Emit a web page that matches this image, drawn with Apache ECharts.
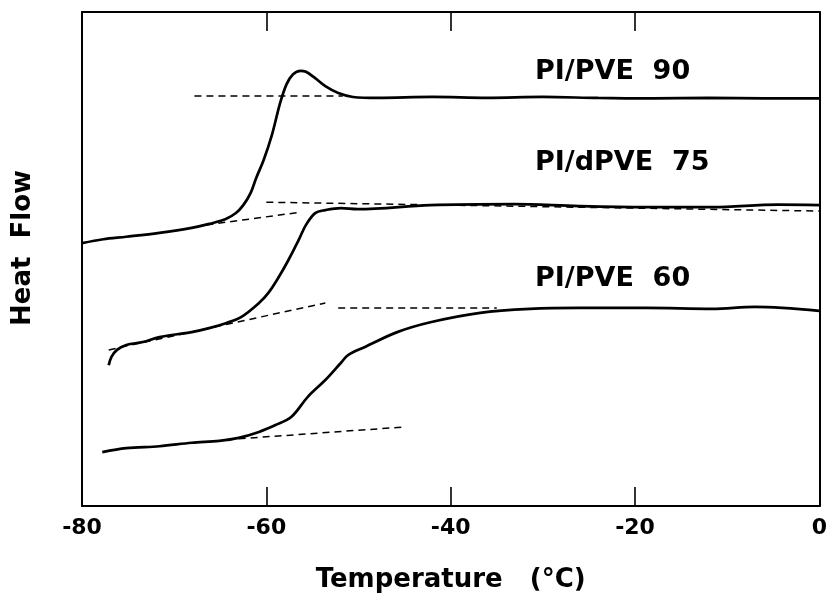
<!DOCTYPE html>
<html>
<head>
<meta charset="utf-8">
<script src="https://cdn.jsdelivr.net/npm/echarts@6/dist/echarts.min.js"></script>
<style>
html,body{margin:0;padding:0;background:#fff;}
#chart{width:830px;height:598px;}
</style>
</head>
<body>
<div id="chart"></div>
<script>
// Temperature axis ticks
const xTicks = [-80, -60, -40, -20, 0];

// DSC traces (Temperature °C, heat flow arbitrary units)
const pve90 = [
  [-80.0, 53.2], [-77.7, 54.0], [-75.2, 54.5], [-71.6, 55.3], [-68.1, 56.3],
  [-66.2, 57.1], [-64.4, 58.1], [-63.3, 59.3], [-62.5, 60.9], [-61.7, 63.4],
  [-61.1, 66.4], [-60.3, 70.0], [-59.4, 75.1], [-58.5, 81.6], [-57.8, 85.4],
  [-57.1, 87.4], [-56.3, 88.1], [-55.7, 87.9], [-54.7, 86.6], [-53.6, 85.0],
  [-52.2, 83.6], [-50.6, 82.8], [-47.9, 82.6], [-42.0, 82.8], [-36.0, 82.6],
  [-30.0, 82.8], [-24.0, 82.6], [-18.0, 82.5], [-12.0, 82.6], [-6.0, 82.5],
  [0.0, 82.5]
];
const dpve75 = [
  [-77.1, 28.5], [-76.8, 30.2], [-76.2, 31.6], [-75.2, 32.6], [-73.4, 33.2],
  [-71.6, 34.2], [-68.1, 35.2], [-66.2, 36.0], [-64.4, 37.0], [-62.7, 38.3],
  [-60.8, 41.1], [-59.8, 43.1], [-58.7, 46.2], [-57.6, 49.8], [-56.5, 53.8],
  [-55.7, 56.9], [-54.7, 59.3], [-53.6, 59.9], [-51.9, 60.3], [-50.1, 60.1],
  [-42.2, 60.9], [-33.2, 61.1], [-26.1, 60.7], [-18.8, 60.5], [-11.6, 60.5],
  [-4.5, 61.0], [0.0, 60.9]
];
const pve60 = [
  [-77.8, 10.9], [-75.2, 11.7], [-71.6, 12.1], [-68.1, 12.8], [-65.1, 13.2],
  [-63.0, 13.8], [-60.8, 15.0], [-59.0, 16.4], [-57.3, 18.0], [-55.5, 22.1],
  [-53.6, 25.5], [-51.9, 29.0], [-51.1, 30.6], [-49.3, 32.2], [-45.8, 35.2],
  [-42.2, 37.2], [-36.8, 39.1], [-31.4, 39.9], [-26.1, 40.1], [-18.8, 40.1],
  [-11.6, 39.9], [-7.0, 40.3], [0.0, 39.5]
];

// Baseline construction lines (dashed)
const base90Upper = [[-67.8, 83.0], [-51.7, 83.0]];
const base90Lower = [[-66.5, 56.9], [-56.2, 59.5]];
const base75Upper = [[-60.0, 61.5], [0.0, 59.7]];
const base75Lower = [[-77.1, 31.6], [-53.6, 41.1]];
const base60Upper = [[-52.2, 40.1], [-35.0, 40.1]];
const base60Lower = [[-63.0, 13.6], [-45.0, 16.0]];

const sampleLabels = ['PI/PVE  90', 'PI/dPVE  75', 'PI/PVE  60'];

const FONT = 'DejaVu Sans';
const chart = echarts.init(document.getElementById('chart'), null, {renderer: 'canvas'});

function solid(data) {
  return {type: 'line', data: data, smooth: 0.35, showSymbol: false, silent: true,
    lineStyle: {color: '#000', width: 2.7}, xAxisIndex: 0, yAxisIndex: 0};
}
function dashed(data) {
  return {type: 'line', data: data, showSymbol: false, silent: true,
    lineStyle: {color: '#000', width: 1.5, type: [7, 5]}, xAxisIndex: 0, yAxisIndex: 0};
}

const axisCommon = {
  type: 'value', min: xTicks[0], max: xTicks[xTicks.length - 1], interval: 20,
  splitLine: {show: false},
  axisLine: {show: true, onZero: false, lineStyle: {color: '#000', width: 2}},
  axisTick: {show: true, inside: true, length: 19, lineStyle: {color: '#000', width: 1.6}}
};

chart.setOption({
  animation: false,
  backgroundColor: '#fff',
  grid: {left: 82, right: 5, top: 12, bottom: 92, containLabel: false},
  xAxis: [
    Object.assign({}, axisCommon, {
      position: 'bottom',
      axisLabel: {show: true, color: '#000', fontFamily: FONT, fontWeight: 'bold', fontSize: 22, margin: 11},
      name: 'Temperature   (°C)', nameLocation: 'middle', nameGap: 61,
      nameTextStyle: {color: '#000', fontFamily: FONT, fontWeight: 'bold', fontSize: 26}
    }),
    Object.assign({}, axisCommon, {position: 'top', axisLabel: {show: false}})
  ],
  yAxis: [
    {type: 'value', min: 0, max: 100, position: 'left', splitLine: {show: false},
     axisLabel: {show: false}, axisTick: {show: false},
     axisLine: {show: true, onZero: false, lineStyle: {color: '#000', width: 2}}},
    {type: 'value', min: 0, max: 100, position: 'right', splitLine: {show: false},
     axisLabel: {show: false}, axisTick: {show: false},
     axisLine: {show: true, onZero: false, lineStyle: {color: '#000', width: 2}}}
  ],
  graphic: [
    {type: 'text', x: 23, y: 248, rotation: Math.PI / 2,
     style: {text: 'Heat  Flow', fill: '#000', font: 'bold 26px "' + FONT + '"', align: 'center', verticalAlign: 'middle'}},
    {type: 'text', x: 535, y: 72,
     style: {text: sampleLabels[0], fill: '#000', font: 'bold 27px "' + FONT + '"', align: 'left', verticalAlign: 'middle'}},
    {type: 'text', x: 535, y: 163,
     style: {text: sampleLabels[1], fill: '#000', font: 'bold 27px "' + FONT + '"', align: 'left', verticalAlign: 'middle'}},
    {type: 'text', x: 535, y: 279,
     style: {text: sampleLabels[2], fill: '#000', font: 'bold 27px "' + FONT + '"', align: 'left', verticalAlign: 'middle'}}
  ],
  series: [
    dashed(base90Upper), dashed(base90Lower),
    dashed(base75Upper), dashed(base75Lower),
    dashed(base60Upper), dashed(base60Lower),
    solid(pve90), solid(dpve75), solid(pve60)
  ]
});
</script>
</body>
</html>
